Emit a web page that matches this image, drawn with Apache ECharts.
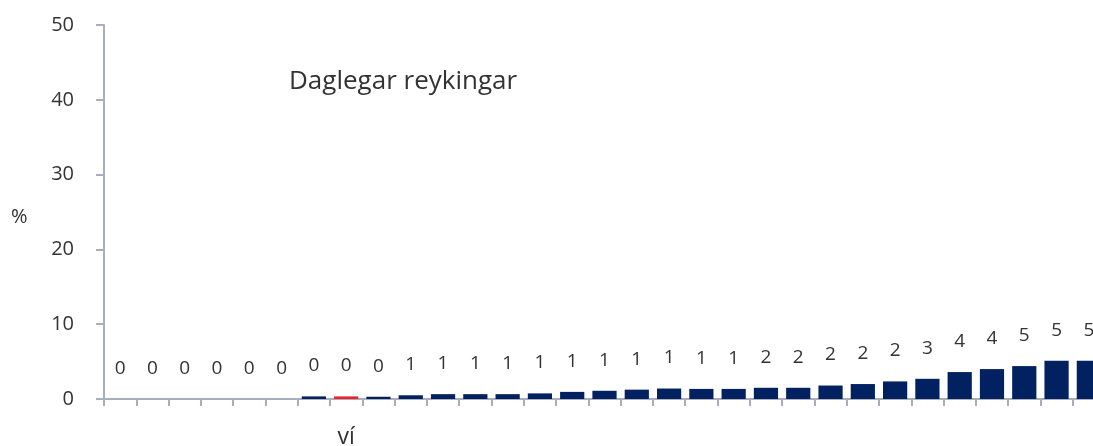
<!DOCTYPE html>
<html>
<head>
<meta charset="utf-8">
<script src="https://cdn.jsdelivr.net/npm/echarts@6/dist/echarts.min.js"></script>
<style>
  html, body { margin: 0; padding: 0; background: #fff; }
  #chart { width: 1093px; height: 446px; }
</style>
</head>
<body>
<div id="chart"></div>
<script>
// categories: only one is named on the axis
const categories = ['', '', '', '', '', '', '', 'ví', '', '', '', '', '', '', '', '',
  '', '', '', '', '', '', '', '', '', '', '', '', '', '', '']
const values = [0, 0, 0, 0, 0, 0, 0.35, 0.35, 0.3, 0.5, 0.65, 0.65, 0.65, 0.75, 0.95, 1.1,
  1.25, 1.4, 1.35, 1.35, 1.5, 1.5, 1.8, 2.0, 2.35, 2.7, 3.6, 4.0, 4.4, 5.1, 5.1]
// rounded labels as printed above the bars
const barLabels = [0, 0, 0, 0, 0, 0, 0, 0, 0, 1, 1, 1, 1, 1, 1, 1,
  1, 1, 1, 1, 2, 2, 2, 2, 2, 3, 4, 4, 5, 5, 5]
const highlightIndex = 7
const title = 'Daglegar reykingar'

const font = '"Open Sans", "Noto Sans", sans-serif'
const chart = echarts.init(document.getElementById('chart'), null, { renderer: 'canvas' })

chart.setOption({
  animation: false,
  textStyle: { fontFamily: font },
  grid: { left: 104, top: 25, bottom: 47, right: -12, containLabel: false, outerBoundsMode: 'none' },
  graphic: [
    {
      type: 'text',
      left: 289,
      top: 69,
      style: { text: title, font: '26px ' + font, fill: '#333' }
    },
    {
      type: 'text',
      left: 11,
      top: 207,
      style: { text: '%', font: '20px ' + font, fill: '#333' }
    }
  ],
  xAxis: {
    type: 'category',
    data: categories,
    axisLine: { lineStyle: { color: '#a9aebf', width: 2 } },
    axisTick: { show: true, interval: 0, length: 7, lineStyle: { color: '#a9aebf', width: 2 } },
    axisLabel: { interval: 0, margin: 27, color: '#333', fontSize: 23, fontFamily: font }
  },
  yAxis: {
    type: 'value',
    min: 0,
    max: 50,
    interval: 10,
    splitLine: { show: false },
    axisLine: { show: true, lineStyle: { color: '#a9aebf', width: 2 } },
    axisTick: { show: true, length: 8, lineStyle: { color: '#a9aebf', width: 2 } },
    axisLabel: { margin: 30, color: '#333', fontSize: 20, fontFamily: font }
  },
  series: [
    {
      type: 'bar',
      data: values,
      barCategoryGap: '25%',
      itemStyle: {
        color: p => p.dataIndex === highlightIndex ? '#e8262a' : '#022160'
      },
      label: {
        show: true,
        position: 'top',
        distance: 21,
        color: '#333',
        fontSize: 19,
        fontFamily: font,
        formatter: p => String(barLabels[p.dataIndex])
      }
    }
  ]
})
</script>
</body>
</html>
